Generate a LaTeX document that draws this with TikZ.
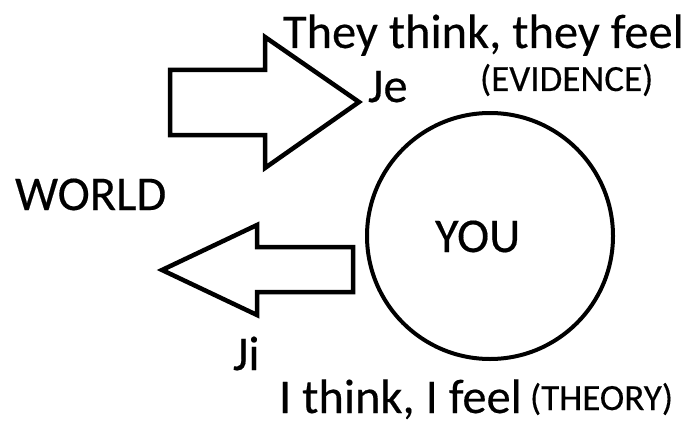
\documentclass[tikz,border=0pt]{standalone}
\usepackage{fontspec}
\setmainfont{Carlito}[FakeBold=0.3]
\begin{document}
\begin{tikzpicture}[x=1pt,y=-1pt,
  lbl/.style={anchor=base west,inner sep=0pt,outer sep=0pt,font=\fontsize{48.5}{52}\selectfont},
  small/.style={anchor=base west,inner sep=0pt,outer sep=0pt,font=\fontsize{37}{40}\selectfont},
  outl/.style={draw=black,line width=4.5pt,line join=miter}]
\useasboundingbox[fill=white] (0,0) rectangle (696,436);
% right arrow (Je)
\draw[outl] (170,70) -- (265,70) -- (265,37) -- (359,102) -- (265,168) -- (265,135) -- (170,135) -- cycle;
% left arrow (Ji)
\draw[outl] (353,247) -- (257,247) -- (257,225) -- (162,270) -- (257,315) -- (257,292) -- (353,292) -- cycle;
% circle
\node[outl,circle,line width=4pt,minimum size=246pt,inner sep=0pt] (you) at (490,236) {};
% texts
\node[lbl] (theyfeel) at (283,48) {They think, they feel};
\node[small] (evidence) at (480,91) {(EVIDENCE)};
\node[lbl] (je) at (368,102) {Je};
\node[lbl] (world) at (15,210) {WORLD};
\node[lbl] (youtext) at (435,252) {YOU};
\node[lbl] (ji) at (233,370) {Ji};
\node[lbl] (ifeel) at (279,413) {I think, I feel};
\node[small] (theory) at (530,410) {(THEORY)};
\end{tikzpicture}
\end{document}
